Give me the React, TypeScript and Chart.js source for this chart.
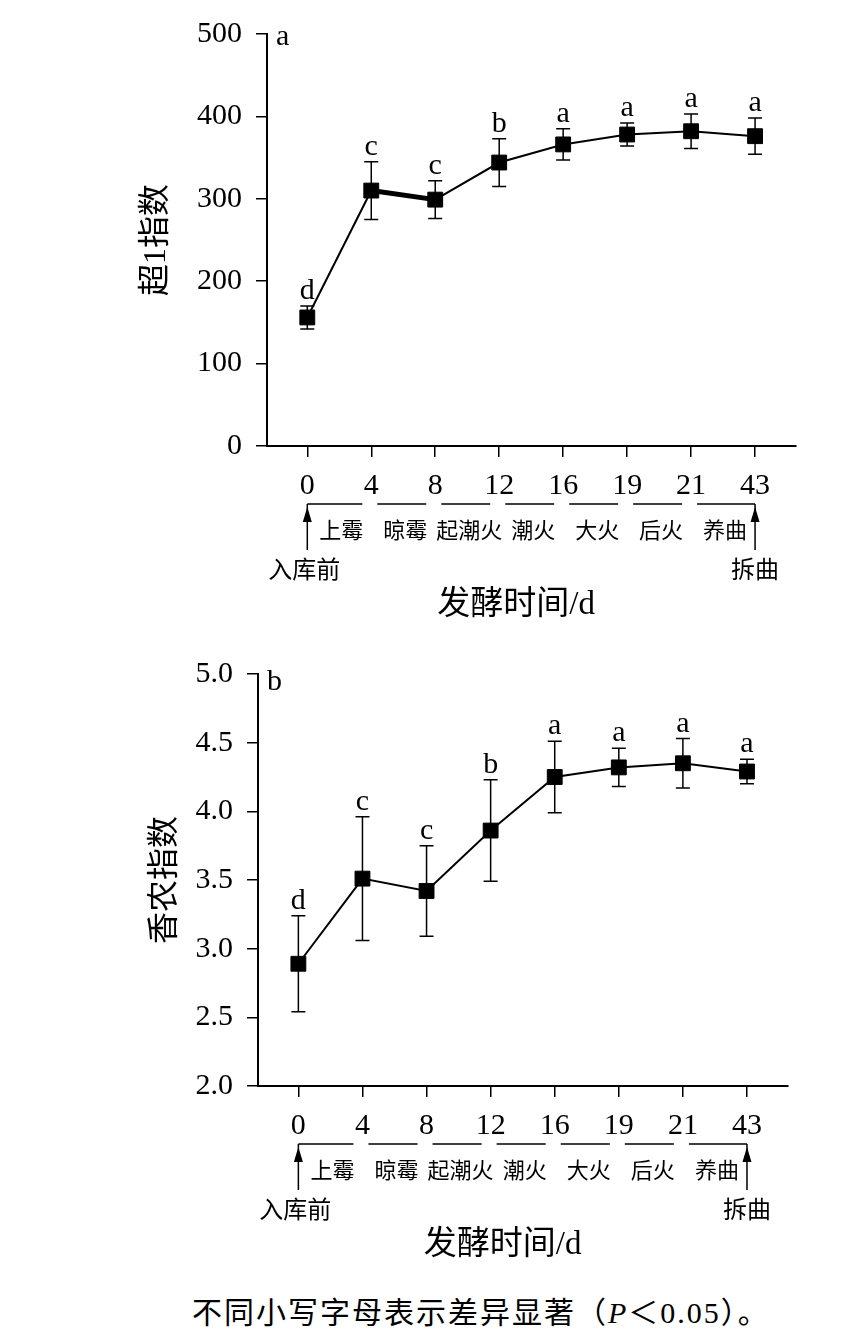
import React, { useEffect, useRef } from 'react';
import { Chart, registerables } from 'chart.js';

Chart.register(...registerables);

// ---------- data ----------
const days = ['0', '4', '8', '12', '16', '19', '21', '43'];
const stages = ['上霉', '晾霉', '起潮火', '潮火', '大火', '后火', '养曲'];
const startLabel = '入库前';
const endLabel = '拆曲';
const xTitle = '发酵时间/d';

const chaoMean = [156, 310, 299, 344, 366, 378, 382, 376];
const chaoErr = [14, 35, 23, 29, 19, 14, 21, 22];
const chaoLetters = ['d', 'c', 'c', 'b', 'a', 'a', 'a', 'a'];
const chaoTicks = [0, 100, 200, 300, 400, 500];

const shannonMean = [2.89, 3.51, 3.42, 3.86, 4.25, 4.32, 4.35, 4.29];
const shannonErr = [0.35, 0.45, 0.33, 0.37, 0.26, 0.14, 0.18, 0.09];
const shannonLetters = ['d', 'c', 'c', 'b', 'a', 'a', 'a', 'a'];
const shannonTicks = [2.0, 2.5, 3.0, 3.5, 4.0, 4.5, 5.0];

const caption = '不同小写字母表示差异显著';

const FF = "'Liberation Serif', 'Noto Sans CJK SC', serif";

type PanelProps = {
  mean: number[];
  err: number[];
  letters: string[];
  ticks: number[];
  decimals: number;
  yTitle: string;
  panel: string;
  panelBase: number;
  axisLeft: number;
  axisRight: number;
  yTitleX: number;
  xTitleShift: number;
  thickSeg: boolean;
  top: number;
};

const W = 850;
const H = 640;
const AXIS_Y = 446;
const AREA_TOP = 34;

function Panel(props: PanelProps) {
  const ref = useRef<HTMLCanvasElement | null>(null);
  useEffect(() => {
    const canvas = ref.current;
    if (!canvas) return;
    const { mean, err, letters, ticks, decimals } = props;

    const annot = {
      id: 'annot',
      beforeDatasetsDraw(chart: any) {
        const { ctx } = chart;
        const x = chart.scales.x;
        const y = chart.scales.y;
        ctx.save();
        ctx.strokeStyle = '#000';
        ctx.lineWidth = 1.5;
        mean.forEach((m, i) => {
          const px = x.getPixelForValue(i);
          const t = y.getPixelForValue(m + err[i]);
          const b = y.getPixelForValue(m - err[i]);
          ctx.beginPath();
          ctx.moveTo(px, t);
          ctx.lineTo(px, b);
          ctx.moveTo(px - 7, t);
          ctx.lineTo(px + 7, t);
          ctx.moveTo(px - 7, b);
          ctx.lineTo(px + 7, b);
          ctx.stroke();
        });
        ctx.restore();
      },
      afterDatasetsDraw(chart: any) {
        const { ctx } = chart;
        const x = chart.scales.x;
        const y = chart.scales.y;
        ctx.save();
        ctx.fillStyle = '#000';
        ctx.font = `30px ${FF}`;
        ctx.textAlign = 'center';
        ctx.textBaseline = 'alphabetic';
        mean.forEach((m, i) => {
          const px = x.getPixelForValue(i);
          const t = y.getPixelForValue(m + err[i]);
          ctx.fillText(letters[i], px, t - 7);
        });
        ctx.restore();
      },
      afterDraw(chart: any) {
        const { ctx, chartArea } = chart;
        const x = chart.scales.x;
        const ax = chartArea.bottom;
        const p = days.map((_, i) => x.getPixelForValue(i));
        ctx.save();
        ctx.strokeStyle = '#000';
        ctx.fillStyle = '#000';
        ctx.lineWidth = 1.5;
        const ly = ax + 58;
        ctx.beginPath();
        for (let i = 0; i < stages.length; i++) {
          const s = i === 0 ? p[0] : p[i] + 6;
          const e = i === stages.length - 1 ? p[p.length - 1] : p[i + 1] - 9;
          ctx.moveTo(s, ly);
          ctx.lineTo(e, ly);
        }
        [p[0], p[p.length - 1]].forEach((px) => {
          ctx.moveTo(px, ly);
          ctx.lineTo(px, ax + 104);
        });
        ctx.stroke();
        [p[0], p[p.length - 1]].forEach((px) => {
          ctx.beginPath();
          ctx.moveTo(px, ax + 61);
          ctx.lineTo(px - 4.5, ax + 76);
          ctx.lineTo(px + 4.5, ax + 76);
          ctx.closePath();
          ctx.fill();
        });
        ctx.font = `22px ${FF}`;
        ctx.textAlign = 'center';
        ctx.textBaseline = 'middle';
        stages.forEach((s, i) => {
          ctx.fillText(s, (p[i] + p[i + 1]) / 2 + 2, ax + 86);
        });
        ctx.font = `24px ${FF}`;
        ctx.fillText(startLabel, p[0] - 3, ax + 126);
        ctx.fillText(endLabel, p[p.length - 1], ax + 126);
        // x-axis title
        ctx.font = `33px ${FF}`;
        ctx.fillText(xTitle, (p[0] + p[p.length - 1]) / 2 + props.xTitleShift, ax + 159);
        // panel letter
        ctx.font = `30px ${FF}`;
        ctx.textAlign = 'left';
        ctx.textBaseline = 'alphabetic';
        ctx.fillText(props.panel, chartArea.left + 9, chartArea.top + props.panelBase);
        ctx.restore();
      },
    };

    const chart = new Chart(canvas, {
      type: 'line',
      data: {
        datasets: [
          {
            data: mean.map((v, i) => ({ x: i, y: v })),
            borderColor: '#000',
            backgroundColor: '#000',
            borderWidth: 2,
            pointStyle: 'rect',
            pointRadius: 10.5,
            pointBorderWidth: 1,
            pointBackgroundColor: '#000',
            pointBorderColor: '#000',
            tension: 0,
            segment: {
              borderWidth: (c: any) => (props.thickSeg && c.p0DataIndex === 1 ? 5 : undefined),
            },
          } as any,
        ],
      },
      options: {
        responsive: false,
        animation: false,
        devicePixelRatio: 1,
        layout: { padding: { left: 0, right: W - props.axisRight, top: AREA_TOP, bottom: 0 } },
        plugins: { legend: { display: false }, tooltip: { enabled: false }, title: { display: false } },
        scales: {
          x: {
            type: 'linear',
            min: -0.63,
            max: 7.64,
            afterBuildTicks: (s: any) => {
              s.ticks = days.map((_, i) => ({ value: i }));
            },
            afterFit: (s: any) => {
              s.height = H - AXIS_Y;
            },
            ticks: {
              autoSkip: false,
              maxRotation: 0,
              padding: 11,
              color: '#000',
              font: { family: FF, size: 30 },
              callback: (v: any) => days[v] ?? '',
            },
            grid: { drawOnChartArea: false, drawTicks: true, tickLength: 11, color: '#000', lineWidth: 1.5 },
            border: { display: true, color: '#000', width: 2 },
            title: { display: false },
          },
          y: {
            type: 'linear',
            min: ticks[0],
            max: ticks[ticks.length - 1],
            afterBuildTicks: (s: any) => {
              s.ticks = ticks.map((v) => ({ value: v }));
            },
            afterFit: (s: any) => {
              s.width = props.axisLeft;
            },
            ticks: {
              padding: 14,
              color: '#000',
              font: { family: FF, size: 30 },
              callback: (v: any) => Number(v).toFixed(decimals),
            },
            grid: { drawOnChartArea: false, drawTicks: true, tickLength: 11, color: '#000', lineWidth: 1.5 },
            border: { display: true, color: '#000', width: 2 },
            title: {
              display: true,
              text: props.yTitle,
              color: '#000',
              font: { family: FF, size: 32 },
              padding: { top: props.yTitleX - 19, bottom: 0 },
            },
          },
        },
      },
      plugins: [annot],
    } as any);
    return () => chart.destroy();
  }, []);
  return (
    <canvas
      ref={ref}
      width={W}
      height={H}
      style={{ position: 'absolute', left: 0, top: props.top, width: W, height: H }}
    />
  );
}

export default function App() {
  return (
    <div
      style={{
        position: 'absolute',
        left: 0,
        top: 0,
        width: W,
        height: 1343,
        background: '#fff',
        overflow: 'hidden',
      }}
    >
      <Panel
        mean={chaoMean}
        err={chaoErr}
        letters={chaoLetters}
        ticks={chaoTicks}
        decimals={0}
        yTitle="超1指数"
        panel="a"
        panelBase={11}
        axisLeft={267}
        axisRight={796}
        yTitleX={156}
        xTitleShift={-15}
        thickSeg={true}
        top={0}
      />
      <Panel
        mean={shannonMean}
        err={shannonErr}
        letters={shannonLetters}
        ticks={shannonTicks}
        decimals={1}
        yTitle="香农指数"
        panel="b"
        panelBase={16}
        axisLeft={258}
        axisRight={788}
        yTitleX={165}
        xTitleShift={-20}
        thickSeg={false}
        top={640}
      />
      <div
        style={{
          position: 'absolute',
          left: 192,
          top: 1297,
          fontFamily: FF,
          fontSize: 30,
          letterSpacing: '2px',
          lineHeight: '32px',
          whiteSpace: 'nowrap',
          color: '#000',
        }}
      >
        {caption}（<i>P</i>＜0.05）。
      </div>
    </div>
  );
}
